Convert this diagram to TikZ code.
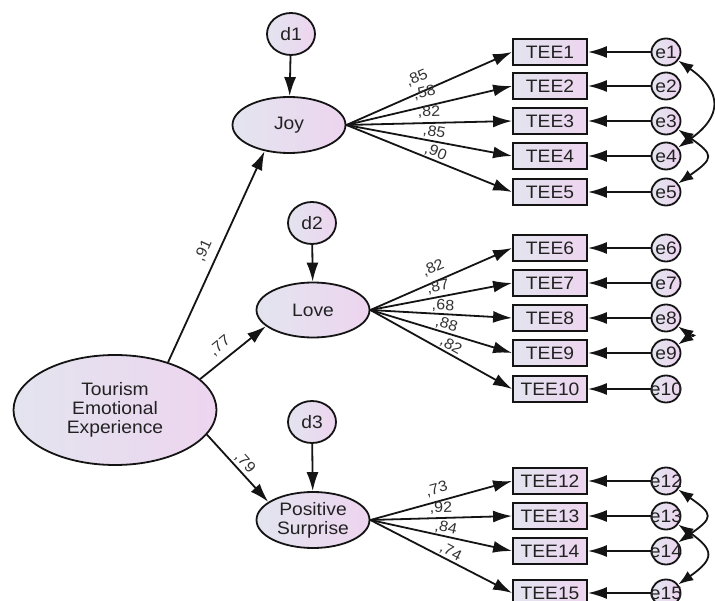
\documentclass[tikz,border=0pt]{standalone}
\usepackage{fontspec}
\setmainfont{Liberation Sans}[FakeStretch=1.07]
\usetikzlibrary{arrows.meta,shapes.geometric}
\definecolor{lnc}{HTML}{141414}
\definecolor{txc}{HTML}{222222}
\definecolor{fillL}{HTML}{E3E4EF}
\definecolor{fillR}{HTML}{EDD5EF}
\definecolor{labc}{HTML}{333333}
\begin{document}
\begin{tikzpicture}[x=1pt,y=1pt,
  every node/.style={font=\fontsize{18}{19}\selectfont, text=txc},
  shp/.style={draw=lnc, line width=1.8pt, left color=fillL, right color=fillR, inner sep=0pt},
  lat/.style={shp, ellipse, minimum width=113pt, minimum height=56pt, align=center},
  obs/.style={shp, rectangle, minimum width=74pt, minimum height=26pt},
  err/.style={shp, ellipse, minimum width=29pt, minimum height=27pt},
  dis/.style={shp, ellipse, minimum width=48pt, minimum height=42pt},
  arr/.style={draw=lnc, line width=1.8pt, -{Latex[length=19pt,width=12pt]}},
  cov/.style={draw=lnc, line width=1.8pt, {Latex[length=15pt,width=11pt]}-{Latex[length=15pt,width=11pt]}},
  wt/.style={font=\fontsize{15}{16}\selectfont, text=labc, sloped, inner sep=1pt}
]
\useasboundingbox (0,0) rectangle (715,-601);
\fill[white] (0,0) rectangle (715,-601);

% latent variables
\node[lat, minimum width=203pt, minimum height=110pt] (TE) at (115,-410) {Tourism\\Emotional\\Experience};
\node[lat] (Joy) at (289,-125) {Joy};
\node[lat, minimum height=55pt] (Love) at (313,-310) {Love};
\node[lat] (PS) at (313,-520) {Positive\\Surprise};

% disturbances
\node[dis] (d1) at (291,-34) {d1};
\node[dis] (d2) at (312,-223) {d2};
\node[dis] (d3) at (312,-422) {d3};

% observed
\foreach \n/\y in {1/52,2/86,3/121,4/156,5/192,6/248,7/283,8/318,9/353,10/389,12/481,13/516,14/551,15/593}{
  \node[obs] (TEE\n) at (550,-\y) {TEE\n};
  \node[err] (e\n) at (666,-\y) {};
  \node at (e\n) {e\n};
  \draw[arr] (e\n) -- (TEE\n);
}

% disturbance arrows
\draw[arr] (d1) -- (Joy);
\draw[arr] (d2) -- (Love);
\draw[arr] (d3) -- (PS);

% structural paths
\draw[arr] (TE.42) -- node[wt, above=6pt, pos=0.5] {,91} (Joy.227);
\draw[arr] (TE.20) -- node[wt, above=5.5pt, pos=0.43] {,77} (Love.199);
\draw[arr] (TE.-15) -- node[wt, above=1pt, pos=0.51] {,79} (PS.158);

% loadings Joy
\draw[arr] (Joy.east) -- node[wt, above=6.5pt, pos=0.46] {,85} (TEE1.west);
\draw[arr] (Joy.east) -- node[wt, above=5pt, pos=0.49] {,58} (TEE2.west);
\draw[arr] (Joy.east) -- node[wt, above=2.5pt, pos=0.5] {,82} (TEE3.west);
\draw[arr] (Joy.east) -- node[wt, above=1pt, pos=0.52] {,85} (TEE4.west);
\draw[arr] (Joy.east) -- node[wt, above=0pt, pos=0.52] {,90} (TEE5.west);

% loadings Love
\draw[arr] (Love.east) -- node[wt, above=5pt, pos=0.48] {,82} (TEE6.west);
\draw[arr] (Love.east) -- node[wt, above=2pt, pos=0.49] {,87} (TEE7.west);
\draw[arr] (Love.east) -- node[wt, above=0pt, pos=0.51] {,68} (TEE8.west);
\draw[arr] (Love.east) -- node[wt, above=0pt, pos=0.52] {,88} (TEE9.west);
\draw[arr] (Love.east) -- node[wt, above=0pt, pos=0.54] {,82} (TEE10.west);

% loadings Positive Surprise
\draw[arr] (PS.east) -- node[wt, above=4pt, pos=0.49] {,73} (TEE12.west);
\draw[arr] (PS.east) -- node[wt, above=1.5pt, pos=0.5] {,92} (TEE13.west);
\draw[arr] (PS.east) -- node[wt, above=0pt, pos=0.52] {,84} (TEE14.west);
\draw[arr] (PS.east) -- node[wt, above=0pt, pos=0.54] {,74} (TEE15.west);

% covariances
\draw[cov] (e1.-35) to[out=-35,in=35,looseness=1.6] (e4.35);
\draw[cov] (e3.-35) to[out=-35,in=35,looseness=2.1] (e5.35);
\draw[cov] (e8.-35) to[out=-35,in=35,looseness=3] (e9.35);
\draw[cov] (e12.-35) to[out=-35,in=35,looseness=2.1] (e14.35);
\draw[cov] (e13.-35) to[out=-35,in=35,looseness=1.9] (e15.35);
\end{tikzpicture}
\end{document}
